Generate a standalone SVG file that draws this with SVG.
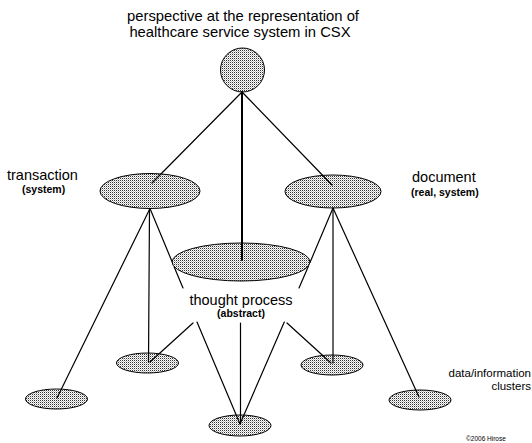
<svg xmlns="http://www.w3.org/2000/svg" width="532" height="443" viewBox="0 0 532 443">
  <defs>
    <!-- stippled grey fill used by all nodes -->
    <pattern id="stipple" patternUnits="userSpaceOnUse" width="2" height="2">
      <rect width="2" height="2" fill="#ffffff"/>
      <rect x="0" y="0" width="1" height="1" fill="#333333"/>
      <rect x="1" y="1" width="1" height="1" fill="#bdbdbd"/>
    </pattern>
  </defs>
  <style>
    .node { fill: url(#stipple); stroke: #000; stroke-width: 1; }
    .edge { fill: none; stroke: #000; stroke-width: 1.2; stroke-linecap: round; }
    .spine { stroke-width: 2; }
    .lbl { font-family: "Liberation Sans", Arial, sans-serif; fill: #000; }
    .big { font-size: 14.5px; }
    .title { font-size: 14.8px; }
    .sub { font-size: 10.5px; font-weight: bold; }
    .mid { font-size: 11.5px; }
    .tiny { font-size: 6.5px; }
  </style>

  <rect width="532" height="443" fill="#ffffff"/>

  <!-- title -->
  <g id="title" class="lbl title" text-anchor="middle">
    <text x="243" y="21">perspective at the representation of</text>
    <text x="240" y="37">healthcare service system in CSX</text>
  </g>

  <!-- top node: perspective -->
  <g id="perspective">
    <circle class="node" cx="242.5" cy="70" r="22"/>
  </g>

  <!-- transaction -->
  <g id="transaction">
    <ellipse class="node" cx="150" cy="191" rx="50" ry="17.5"/>
    <text class="lbl big" x="7" y="180">transaction</text>
    <text class="lbl sub" x="22" y="193">(system)</text>
  </g>

  <!-- document -->
  <g id="document">
    <ellipse class="node" cx="333" cy="191.5" rx="48" ry="16.5"/>
    <text class="lbl big" x="412" y="182">document</text>
    <text class="lbl sub" x="411" y="196">(real, system)</text>
  </g>

  <!-- thought process -->
  <g id="thought">
    <ellipse class="node" cx="241" cy="262" rx="69" ry="19"/>
    <text class="lbl big" x="241" y="305" text-anchor="middle">thought process</text>
    <text class="lbl sub" x="241" y="317" text-anchor="middle">(abstract)</text>
  </g>

  <!-- data/information clusters -->
  <g id="cluster-1">
    <ellipse class="node" cx="56.5" cy="399" rx="31" ry="10"/>
  </g>
  <g id="cluster-2">
    <ellipse class="node" cx="147.5" cy="363" rx="31" ry="10"/>
  </g>
  <g id="cluster-3">
    <ellipse class="node" cx="240" cy="425.5" rx="31" ry="10.5"/>
  </g>
  <g id="cluster-4">
    <ellipse class="node" cx="332" cy="365" rx="31" ry="10"/>
  </g>
  <g id="cluster-5">
    <ellipse class="node" cx="420" cy="400" rx="31" ry="10"/>
  </g>
  <g id="clusters-label" class="lbl mid" text-anchor="end">
    <text x="531" y="377">data/information</text>
    <text x="531" y="390">clusters</text>
  </g>

  <!-- connectors (segments hidden behind the thought-process node are left out) -->
  <g id="connectors">
    <!-- from perspective -->
    <line class="edge" x1="242" y1="92" x2="152" y2="183"/>
    <line class="edge" x1="242" y1="92" x2="332" y2="185"/>
    <line class="edge spine" x1="242" y1="92" x2="242" y2="260"/>

    <!-- from transaction -->
    <line class="edge" x1="150" y1="208.5" x2="57" y2="398"/>
    <line class="edge" x1="149.5" y1="208.5" x2="148.5" y2="362"/>
    <polyline class="edge" points="150,208.5 172,261.5"/>
    <polyline class="edge" points="174.2,267 183,288"/>
    <polyline class="edge" points="197,322 240,424"/>

    <!-- from document -->
    <line class="edge" x1="333" y1="208" x2="333" y2="363"/>
    <line class="edge" x1="333" y1="208" x2="419" y2="397"/>
    <polyline class="edge" points="333,208 310,262.5"/>
    <polyline class="edge" points="308.4,266.2 299,288"/>
    <polyline class="edge" points="284.3,322 240,424"/>

    <!-- from thought process -->
    <line class="edge" x1="193" y1="323" x2="150" y2="362"/>
    <line class="edge" x1="240.5" y1="323" x2="240.5" y2="424"/>
    <line class="edge" x1="287" y1="323" x2="331" y2="363"/>
  </g>

  <text class="lbl tiny" x="466" y="441">©2006 Hirose</text>
</svg>
